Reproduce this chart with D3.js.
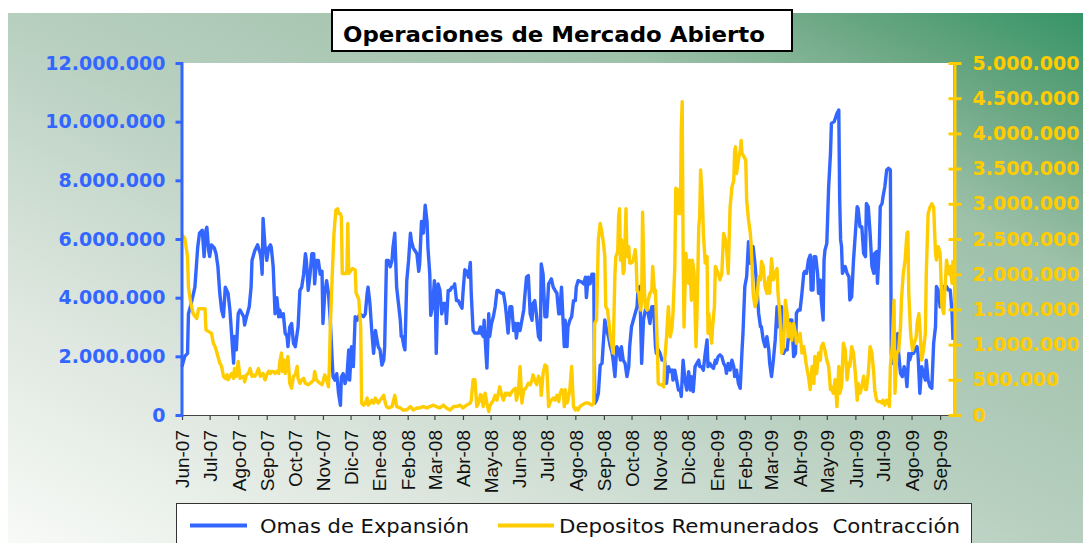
<!DOCTYPE html>
<html><head><meta charset="utf-8">
<script src="https://cdn.jsdelivr.net/npm/d3@7"></script>
<style>html,body{margin:0;padding:0;background:#fff;overflow:hidden}</style>
</head><body>
<svg id="chart" width="1083" height="543"></svg>
<script>
// ---------- DATA ----------
const titulo = "Operaciones de Mercado Abierto";
const fechaInicio = "2007-06-01";
const fechaFin = "2009-09-15";
const mesesAbrev = ["Ene","Feb","Mar","Abr","May","Jun","Jul","Ago","Sep","Oct","Nov","Dic"];
const ticksIzq = [0, 2000000, 4000000, 6000000, 8000000, 10000000, 12000000];
const ticksDer = [0, 500000, 1000000, 1500000, 2000000, 2500000, 3000000, 3500000, 4000000, 4500000, 5000000];
const nombresSeries = ["Omas de Expansión", "Depositos Remunerados  Contracción"];
// [días desde fechaInicio, millones]
const omasExpansion = [[0,1.65],[3,2.0],[6,2.1],[7,3.45],[10,3.8],[14,4.36],[17,5.7],[19,6.2],[22,6.3],[24,5.4],[26,6.3],[27,6.4],[29,5.6],[30,5.4],[32,5.8],[35,5.7],[37,5.5],[39,5.05],[41,4.15],[43,3.58],[45,3.35],[47,4.36],[50,4.15],[52,3.58],[54,2.68],[56,1.77],[57,2.68],[59,2.22],[61,3.45],[63,3.58],[67,3.35],[68,3.07],[70,3.35],[73,3.69],[75,4.36],[76,5.27],[79,5.6],[82,5.8],[85,5.5],[86,5.27],[87,4.8],[88,6.7],[90,5.8],[92,5.27],[94,5.7],[96,5.8],[97,5.7],[99,5.05],[101,3.45],[103,4.0],[105,3.35],[106,3.58],[108,3.35],[110,3.45],[112,2.79],[114,2.68],[115,2.33],[117,3.0],[119,3.12],[121,2.45],[123,2.33],[125,2.79],[126,3.0],[128,4.25],[130,4.36],[132,4.8],[134,5.5],[135,5.27],[137,4.25],[139,4.8],[141,5.5],[143,5.5],[144,4.47],[146,5.27],[148,5.27],[150,4.8],[152,4.9],[153,3.12],[155,4.15],[157,4.58],[159,4.15],[161,3.23],[163,1.87],[164,1.3],[166,1.19],[168,1.41],[170,0.73],[172,0.33],[173,1.3],[175,1.41],[177,1.07],[179,1.3],[181,2.22],[182,1.19],[184,2.33],[186,1.65],[188,3.35],[190,3.23],[193,3.45],[197,3.35],[199,3.45],[201,4.15],[202,4.36],[204,3.8],[206,2.88],[208,2.1],[210,2.88],[211,2.68],[213,2.33],[215,2.22],[217,1.7],[219,1.87],[220,2.33],[222,5.27],[224,5.27],[226,5.05],[228,5.27],[229,5.7],[231,6.2],[233,4.36],[235,3.8],[237,3.23],[238,2.68],[239,2.68],[241,2.33],[242,2.22],[244,4.58],[246,5.27],[248,6.2],[249,5.93],[251,5.7],[253,5.6],[255,5.5],[257,4.9],[258,5.15],[260,6.6],[262,6.2],[264,7.15],[266,6.6],[267,5.7],[269,4.8],[270,3.4],[272,3.69],[274,4.58],[275,3.9],[276,2.1],[278,4.47],[280,4.25],[282,3.45],[284,3.8],[286,3.8],[287,3.12],[289,4.25],[291,4.25],[293,4.36],[295,4.36],[296,4.47],[298,3.9],[300,3.9],[302,3.75],[304,3.64],[305,4.15],[307,4.95],[309,4.9],[311,4.7],[313,5.2],[314,4.15],[316,2.88],[318,2.79],[320,2.79],[322,2.79],[324,3.0],[325,2.79],[327,2.68],[328,3.23],[330,2.1],[331,1.6],[333,3.45],[334,2.68],[336,3.12],[338,3.35],[340,3.69],[342,4.25],[343,4.25],[345,4.2],[347,4.15],[349,4.15],[351,3.75],[352,3.45],[354,2.79],[356,3.69],[358,3.69],[360,2.88],[362,3.12],[363,2.62],[365,3.12],[367,2.88],[369,3.23],[371,3.58],[372,4.0],[374,4.7],[376,4.75],[378,3.45],[380,3.23],[381,3.8],[383,3.9],[385,3.35],[387,2.68],[389,2.56],[390,5.15],[392,4.8],[394,3.35],[396,3.35],[398,4.47],[400,4.58],[401,4.64],[403,4.36],[405,4.25],[407,4.15],[409,3.45],[410,3.45],[412,4.36],[414,3.0],[415,2.33],[416,3.23],[418,2.33],[419,3.0],[421,3.23],[423,3.35],[425,3.9],[427,3.9],[428,4.36],[430,4.58],[434,4.53],[436,4.47],[438,4.7],[439,4.0],[441,4.7],[443,4.47],[445,4.8],[447,4.8],[448,0.4],[450,0.5],[452,0.74],[454,1.7],[456,1.76],[459,3.24],[461,2.9],[463,2.67],[465,2.33],[467,2.1],[468,1.87],[470,1.31],[472,2.33],[474,2.22],[476,1.87],[477,2.33],[479,1.87],[481,1.76],[483,1.31],[485,1.65],[486,2.33],[488,3.01],[490,3.24],[492,3.47],[494,3.69],[495,4.26],[497,4.38],[499,1.76],[501,3.24],[503,3.58],[505,3.69],[506,3.47],[508,3.12],[510,3.69],[512,3.69],[514,2.33],[515,2.1],[517,2.22],[519,2.1],[521,1.87],[523,1.87],[524,1.82],[526,1.08],[528,1.65],[530,1.48],[532,1.53],[533,1.19],[535,1.53],[537,1.19],[539,0.85],[541,0.85],[542,0.63],[544,1.87],[546,1.19],[548,0.85],[550,1.48],[552,0.85],[553,1.31],[555,0.8],[557,1.65],[559,1.76],[561,1.87],[562,1.65],[564,1.65],[566,1.53],[568,2.1],[570,2.56],[571,1.65],[573,1.76],[575,1.65],[577,1.59],[579,1.87],[580,1.76],[582,1.99],[584,2.05],[586,1.99],[588,1.76],[590,1.65],[591,1.42],[593,1.76],[595,1.53],[597,1.87],[599,1.65],[600,1.31],[602,1.53],[604,1.08],[606,0.91],[608,2.22],[609,2.78],[611,4.38],[613,4.72],[615,5.91],[617,5.17],[618,5.63],[620,5.74],[622,5.17],[624,4.38],[626,3.47],[628,3.01],[629,3.01],[631,2.56],[633,2.33],[635,2.67],[637,2.22],[638,1.76],[640,1.31],[642,1.87],[644,2.56],[646,3.69],[647,3.01],[649,3.47],[651,3.69],[653,2.1],[655,2.22],[657,2.22],[658,2.56],[660,3.24],[662,3.24],[664,1.99],[666,2.1],[667,3.47],[669,3.58],[671,3.58],[673,4.15],[675,4.83],[676,4.89],[678,4.83],[680,5.28],[682,5.45],[683,4.26],[685,4.26],[686,5.4],[688,5.4],[690,4.83],[691,4.15],[693,4.6],[694,3.92],[696,3.24],[697,5.28],[698,5.62],[700,5.85],[702,7.78],[704,8.92],[705,9.94],[708,10.0],[711,10.28],[713,10.4],[714,7.33],[715,5.97],[716,5.74],[717,4.83],[720,5.06],[722,4.83],[724,4.72],[725,3.92],[727,4.03],[729,5.28],[731,6.19],[733,7.1],[734,7.04],[736,6.42],[738,6.42],[740,5.51],[742,5.4],[743,7.21],[745,7.1],[747,6.19],[749,5.06],[751,4.83],[752,5.51],[754,5.57],[755,4.49],[757,5.74],[758,7.1],[760,7.21],[761,7.44],[763,7.78],[765,8.35],[767,8.41],[769,8.35],[770,2.1],[771,1.76],[773,2.45],[775,2.1],[777,2.78],[778,2.1],[780,1.42],[782,1.31],[784,1.65],[786,1.31],[787,0.97],[789,2.1],[790,1.87],[792,2.1],[794,2.1],[796,2.22],[798,2.33],[799,2.1],[801,0.74],[803,1.65],[805,1.42],[807,1.19],[808,1.87],[810,1.19],[812,0.97],[814,0.91],[816,2.45],[818,3.01],[819,4.38],[821,4.26],[823,3.69],[825,4.15],[827,4.38],[828,4.26],[830,4.38],[832,4.26],[834,4.26],[836,3.47],[837,2.56]];
const depositosContraccion = [[0,2.56],[3,2.51],[6,2.25],[7,1.82],[9,1.63],[12,1.44],[16,1.37],[18,1.51],[25,1.51],[26,1.21],[32,1.16],[34,1.02],[36,0.97],[38,0.88],[39,0.83],[41,0.74],[43,0.69],[45,0.55],[47,0.52],[49,0.57],[50,0.5],[52,0.55],[54,0.59],[56,0.52],[57,0.66],[59,0.55],[61,0.76],[63,0.52],[67,0.55],[68,0.47],[70,0.57],[72,0.59],[74,0.66],[76,0.55],[77,0.57],[79,0.55],[81,0.59],[83,0.66],[85,0.55],[86,0.57],[88,0.59],[90,0.5],[92,0.57],[94,0.62],[96,0.59],[97,0.62],[99,0.62],[101,0.59],[103,0.62],[105,0.59],[106,0.74],[108,0.88],[109,0.62],[111,0.78],[112,0.59],[114,0.74],[115,0.83],[117,0.45],[119,0.38],[121,0.55],[123,0.57],[125,0.69],[126,0.52],[128,0.45],[130,0.5],[132,0.52],[134,0.45],[137,0.43],[141,0.47],[143,0.5],[144,0.62],[146,0.5],[148,0.47],[150,0.45],[152,0.43],[153,0.47],[155,0.57],[157,0.5],[159,0.4],[160,0.69],[161,1.25],[163,1.96],[165,2.58],[167,2.91],[169,2.93],[170,2.86],[172,2.86],[173,2.81],[174,2.01],[178,2.01],[179,2.06],[180,2.72],[181,2.01],[185,2.08],[188,2.06],[189,1.73],[191,1.68],[192,1.63],[194,1.25],[195,0.17],[197,0.14],[199,0.17],[201,0.24],[202,0.14],[204,0.17],[206,0.21],[208,0.17],[210,0.24],[211,0.21],[213,0.17],[215,0.21],[217,0.24],[219,0.28],[220,0.21],[222,0.12],[224,0.1],[228,0.12],[229,0.17],[231,0.28],[233,0.12],[237,0.1],[240,0.07],[244,0.07],[248,0.12],[251,0.07],[255,0.1],[258,0.1],[262,0.12],[266,0.1],[269,0.12],[273,0.14],[276,0.12],[280,0.1],[284,0.14],[287,0.1],[291,0.07],[295,0.12],[298,0.12],[302,0.14],[305,0.1],[309,0.14],[313,0.17],[314,0.21],[316,0.5],[318,0.5],[320,0.12],[322,0.17],[324,0.29],[325,0.28],[327,0.12],[329,0.31],[331,0.17],[333,0.05],[334,0.12],[336,0.17],[338,0.21],[340,0.28],[342,0.21],[343,0.28],[345,0.4],[347,0.28],[349,0.21],[351,0.31],[352,0.28],[354,0.31],[356,0.28],[358,0.33],[360,0.36],[362,0.38],[363,0.21],[365,0.31],[367,0.69],[369,0.17],[371,0.36],[372,0.36],[374,0.4],[376,0.45],[378,0.43],[380,0.5],[381,0.57],[383,0.5],[385,0.43],[387,0.55],[389,0.5],[390,0.28],[392,0.59],[394,0.71],[396,0.69],[398,0.12],[400,0.19],[401,0.21],[403,0.24],[405,0.21],[407,0.28],[409,0.19],[410,0.28],[412,0.36],[414,0.31],[415,0.12],[416,0.36],[418,0.17],[419,0.21],[421,0.36],[423,0.69],[425,0.12],[427,0.07],[428,0.1],[430,0.07],[432,0.12],[434,0.14],[438,0.17],[441,0.17],[445,0.14],[447,0.17],[448,1.3],[450,1.35],[452,2.49],[454,2.72],[456,2.58],[458,2.39],[459,2.25],[460,1.54],[462,1.49],[464,1.25],[465,1.11],[467,0.97],[468,0.88],[470,2.01],[471,2.25],[473,2.32],[474,2.81],[475,2.93],[476,2.2],[477,2.49],[479,2.01],[480,2.06],[482,2.93],[483,2.25],[485,2.39],[486,2.16],[488,2.16],[490,2.2],[492,2.35],[493,2.2],[494,1.77],[496,1.73],[498,1.49],[499,1.63],[500,2.88],[502,1.77],[503,1.54],[505,1.49],[506,1.63],[508,1.73],[510,1.77],[511,2.11],[513,1.73],[514,1.77],[516,0.97],[517,0.45],[519,0.43],[521,0.43],[523,0.4],[524,0.78],[526,1.11],[528,1.54],[530,1.11],[532,1.25],[533,1.44],[535,2.11],[536,3.22],[538,3.2],[539,2.86],[541,2.86],[542,4.05],[543,4.45],[544,2.35],[545,1.25],[547,2.3],[548,2.11],[550,1.87],[551,2.2],[553,1.63],[554,2.2],[556,2.01],[558,0.97],[559,1.4],[561,2.67],[562,2.81],[563,3.48],[565,3.05],[566,2.58],[568,2.16],[570,2.25],[571,1.16],[572,1.44],[574,1.11],[575,1.02],[576,1.25],[578,1.54],[579,2.11],[582,2.01],[584,1.92],[586,2.01],[588,2.58],[590,2.49],[591,2.39],[593,2.01],[595,2.95],[597,3.24],[599,3.33],[600,3.76],[601,3.81],[602,3.43],[604,3.62],[606,3.76],[607,3.9],[608,3.72],[610,3.67],[612,3.62],[613,3.05],[615,2.77],[617,2.58],[618,2.39],[620,1.73],[622,1.54],[624,1.63],[626,1.96],[628,1.92],[629,2.18],[631,2.11],[633,1.82],[635,1.73],[637,1.96],[638,1.73],[640,2.22],[642,1.92],[644,2.01],[646,2.08],[647,1.73],[649,1.44],[651,0.88],[653,0.97],[655,1.63],[657,1.44],[658,1.11],[660,1.3],[662,1.06],[664,1.3],[666,1.16],[667,1.02],[669,1.06],[671,1.16],[673,0.88],[675,0.97],[676,0.88],[678,0.69],[680,0.55],[682,0.36],[684,0.69],[686,0.45],[687,0.83],[689,0.59],[691,0.88],[693,0.78],[694,0.97],[696,1.02],[698,0.92],[700,0.78],[702,0.69],[704,0.36],[705,0.4],[707,0.31],[709,0.5],[711,0.12],[713,0.69],[714,0.31],[716,0.4],[718,1.02],[720,0.92],[722,0.5],[724,0.74],[725,0.69],[727,0.97],[729,0.88],[731,0.59],[733,0.21],[734,0.45],[736,0.31],[738,0.4],[740,0.55],[742,0.36],[743,0.36],[745,0.59],[747,0.97],[749,0.88],[751,0.59],[752,0.36],[754,0.21],[756,0.19],[758,0.19],[760,0.17],[761,0.21],[763,0.14],[765,0.21],[767,0.17],[768,0.12],[769,0.69],[771,0.97],[773,1.63],[774,0.31],[776,0.88],[778,0.92],[780,1.25],[781,1.63],[783,2.01],[785,2.2],[787,2.58],[788,2.6],[789,1.73],[791,1.16],[793,0.92],[795,1.02],[797,1.11],[798,1.3],[800,1.44],[801,1.25],[803,0.78],[805,0.92],[807,1.16],[808,2.01],[810,2.86],[812,2.95],[814,3.0],[816,2.95],[818,2.3],[819,2.2],[821,2.39],[823,2.3],[825,1.54],[827,1.44],[828,1.73],[830,2.2],[832,2.01],[834,2.11],[836,1.87],[837,2.2]];

// ---------- STYLE ----------
const AZUL = "#3366FF", AMARILLO = "#FFCC00";
const W = 1083, H = 543;
const plot = {left: 182, right: 953, top: 63, bottom: 415};

const svg = d3.select("#chart");
const parse = d3.timeParse("%Y-%m-%d");
const t0 = parse(fechaInicio), t1 = parse(fechaFin);
const loc = d3.formatLocale({decimal: ",", thousands: ".", grouping: [3], currency: ["", ""]});
const fmt = loc.format(",.0f");

// background gradient
const defs = svg.append("defs");
const g = defs.append("linearGradient").attr("id", "bg")
  .attr("x1", 1).attr("y1", 0).attr("x2", 0).attr("y2", 1);
[[0, "#369466"], [0.12, "#6aa783"], [0.25, "#9ec1aa"], [0.5, "#b7cfbf"], [0.75, "#dbe5dd"], [1, "#f8faf7"]]
  .forEach(([o, c]) => g.append("stop").attr("offset", o).attr("stop-color", c));
svg.append("rect").attr("x", 8).attr("y", 13).attr("width", W - 8).attr("height", H - 13).attr("fill", "url(#bg)");

// plot area
svg.append("rect").attr("x", plot.left).attr("y", plot.top)
  .attr("width", plot.right - plot.left).attr("height", plot.bottom - plot.top).attr("fill", "#fff");

// scales
const x = d3.scaleTime().domain([t0, t1]).range([plot.left, plot.right]);
const yL = d3.scaleLinear().domain([0, 12000000]).range([plot.bottom, plot.top]);
const yR = d3.scaleLinear().domain([0, 5000000]).range([plot.bottom, plot.top]);
const dia = d => d3.timeDay.offset(t0, d[0]);

// x axis
const meses = d3.timeMonth.range(t0, t1);
const xAx = svg.append("g").attr("transform", `translate(0,${plot.bottom})`)
  .call(d3.axisBottom(x).tickValues(meses).tickSize(5).tickSizeOuter(0)
    .tickFormat(d => mesesAbrev[d.getMonth()] + "-" + d3.timeFormat("%y")(d)));
xAx.select(".domain").attr("stroke", "#444").attr("stroke-width", 1.2);
xAx.selectAll(".tick line").attr("stroke", "#444").attr("stroke-width", 1.2);
xAx.selectAll(".tick text")
  .attr("transform", "rotate(-90)").attr("x", -15).attr("y", 0).attr("dy", "0.36em")
  .style("text-anchor", "end").attr("fill", "#111")
  .style("font-family", "'Liberation Sans', Arial, sans-serif").style("font-size", "19px");

// lines
const lineL = d3.line().x(d => x(dia(d))).y(d => yL(d[1] * 1e6));
const lineR = d3.line().x(d => x(dia(d))).y(d => yR(d[1] * 1e6));
svg.append("path").datum(omasExpansion).attr("d", lineL)
  .attr("fill", "none").attr("stroke", AZUL).attr("stroke-width", 3.4).attr("stroke-linejoin", "round");
svg.append("path").datum(depositosContraccion).attr("d", lineR)
  .attr("fill", "none").attr("stroke", AMARILLO).attr("stroke-width", 3.4).attr("stroke-linejoin", "round");

// left axis
const lAx = svg.append("g").attr("transform", `translate(${plot.left - 0.5},0)`)
  .call(d3.axisLeft(yL).tickValues(ticksIzq).tickSize(6).tickSizeOuter(0).tickFormat(fmt));
lAx.select(".domain").attr("stroke", AZUL).attr("stroke-width", 3);
lAx.selectAll(".tick line").attr("stroke", AZUL).attr("stroke-width", 3);
lAx.selectAll(".tick text").attr("x", -16).attr("fill", AZUL)
  .style("font-family", "'DejaVu Sans', Verdana, sans-serif").style("font-weight", "bold").style("font-size", "19px");

// right axis
const rAx = svg.append("g").attr("transform", `translate(${plot.right + 1.5},0)`)
  .call(d3.axisRight(yR).tickValues(ticksDer).tickSize(7).tickSizeOuter(0).tickFormat(fmt));
rAx.select(".domain").attr("stroke", AMARILLO).attr("stroke-width", 3);
rAx.selectAll(".tick line").attr("x1", -6).attr("stroke", AMARILLO).attr("stroke-width", 3);
rAx.selectAll(".tick text").attr("x", 18).attr("fill", AMARILLO)
  .style("font-family", "'DejaVu Sans', Verdana, sans-serif").style("font-weight", "bold").style("font-size", "19px");
svg.selectAll(".domain").attr("stroke-linecap", "square");

// title
svg.append("rect").attr("x", 332).attr("y", 10).attr("width", 460).attr("height", 41)
  .attr("fill", "#fff").attr("stroke", "#000").attr("stroke-width", 2);
svg.append("text").attr("x", 554).attr("y", 42).attr("text-anchor", "middle")
  .attr("textLength", 422).attr("lengthAdjust", "spacingAndGlyphs")
  .style("font-family", "'DejaVu Sans', Verdana, sans-serif").style("font-weight", "bold").style("font-size", "22px")
  .attr("fill", "#000").text(titulo);

// legend
const leg = svg.append("g");
leg.append("rect").attr("x", 176.5).attr("y", 503.5).attr("width", 795).attr("height", 50)
  .attr("fill", "#fff").attr("stroke", "#333").attr("stroke-width", 1);
const items = [
  {c: AZUL, x1: 190, x2: 247, tx: 260, len: 209},
  {c: AMARILLO, x1: 498, x2: 554, tx: 559, len: 401}
];
items.forEach((it, i) => {
  leg.append("line").attr("x1", it.x1).attr("x2", it.x2).attr("y1", 525.5).attr("y2", 525.5)
    .attr("stroke", it.c).attr("stroke-width", 4);
  leg.append("text").attr("x", it.tx).attr("y", 532.5)
    .attr("textLength", it.len).attr("lengthAdjust", "spacingAndGlyphs")
    .attr("xml:space", "preserve").style("white-space", "pre")
    .style("font-family", "'DejaVu Sans', Verdana, sans-serif").style("font-size", "20px")
    .attr("fill", "#111").text(nombresSeries[i]);
});
</script>
</body></html>
